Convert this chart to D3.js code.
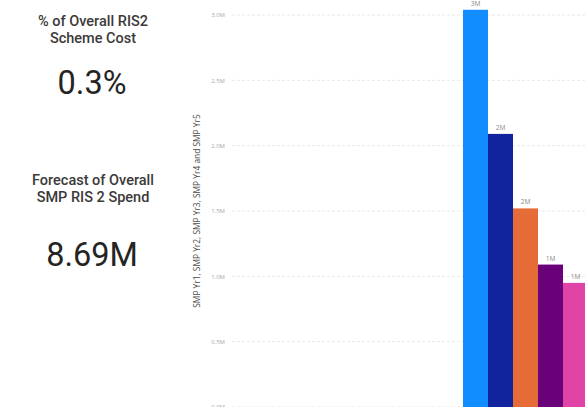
<!DOCTYPE html>
<html>
<head>
<meta charset="utf-8">
<script src="https://cdn.jsdelivr.net/npm/d3@7"></script>
<style>
  html, body { margin: 0; padding: 0; background: #fff; overflow: hidden; }
  svg { display: block; }
</style>
</head>
<body>
<svg id="chart" width="585" height="407"></svg>
<script>
// Yearly SMP forecast spend (millions), one column per year
const series = ["SMP Yr1", "SMP Yr2", "SMP Yr3", "SMP Yr4", "SMP Yr5"];
const values = [3.04, 2.09, 1.52, 1.09, 0.95];
const colors = ["#118DFF", "#12239E", "#E66C37", "#6B007B", "#E044A7"];
const yTicks = [0, 0.5, 1.0, 1.5, 2.0, 2.5, 3.0];

// KPI cards
const cardTitles = [["% of Overall RIS2", "Scheme Cost"], ["Forecast of Overall", "SMP RIS 2 Spend"]];
const cardValues = ["0.3%", "8.69M"];

const svg = d3.select("#chart");
const W = 585, H = 407;

// ---- KPI cards on the left ----
const cardX = 93;
const titleTop = [26, 185];
const valueBase = [94, 266];
cardTitles.forEach((lines, i) => {
  const t = svg.append("text")
    .attr("x", cardX).attr("y", titleTop[i])
    .attr("text-anchor", "middle")
    .attr("font-family", "Roboto, 'DejaVu Sans', sans-serif")
    .attr("font-size", 14.5)
    .attr("font-weight", 500)
    .attr("fill", "#3b3a39");
  lines.forEach((ln, j) => {
    t.append("tspan").attr("x", cardX).attr("dy", j === 0 ? 0 : 16.5).text(ln);
  });
  svg.append("text")
    .attr("x", cardX - 1).attr("y", valueBase[i])
    .attr("text-anchor", "middle")
    .attr("font-family", "Roboto, 'DejaVu Sans', sans-serif")
    .attr("font-size", 32.5)
    .attr("fill", "#252423")
    .text(cardValues[i]);
});

// ---- Column chart ----
const y = d3.scaleLinear().domain([0, 3]).range([407, 15]);
const x = d3.scaleBand().domain(series).range([463, 588]).padding(0);

const gridLeft = 232;

// gridlines
svg.append("g")
  .selectAll("line")
  .data(yTicks)
  .join("line")
  .attr("x1", gridLeft).attr("x2", W)
  .attr("y1", d => y(d)).attr("y2", d => y(d))
  .attr("stroke", "#e9e9e9")
  .attr("stroke-width", 1)
  .attr("stroke-dasharray", "3,2");

// y axis labels
const yAxis = d3.axisLeft(y)
  .tickValues(yTicks)
  .tickFormat(d => d3.format(".1f")(d) + "M")
  .tickSize(0)
  .tickPadding(0);
const ga = svg.append("g").attr("transform", "translate(225,0)").call(yAxis);
ga.select(".domain").remove();
ga.selectAll("text")
  .attr("font-family", "'Open Sans', 'DejaVu Sans', sans-serif")
  .attr("font-size", 6)
  .attr("fill", "#a9a9a9");

// axis title
svg.append("text")
  .attr("transform", "translate(200,211) rotate(-90)")
  .attr("text-anchor", "middle")
  .attr("font-family", "'Open Sans', 'DejaVu Sans', sans-serif")
  .attr("font-size", 8.4)
  .attr("fill", "#4a4948")
  .text("SMP Yr1, SMP Yr2, SMP Yr3, SMP Yr4 and SMP Yr5");

// bars
svg.append("g")
  .selectAll("rect")
  .data(values)
  .join("rect")
  .attr("x", (d, i) => x(series[i]))
  .attr("width", x.bandwidth())
  .attr("y", d => y(d))
  .attr("height", d => y(0) - y(d))
  .attr("fill", (d, i) => colors[i]);

// data labels
svg.append("g")
  .selectAll("text")
  .data(values)
  .join("text")
  .attr("x", (d, i) => x(series[i]) + x.bandwidth() / 2)
  .attr("y", d => y(d) - 4)
  .attr("text-anchor", "middle")
  .attr("font-family", "'Open Sans', 'DejaVu Sans', sans-serif")
  .attr("font-size", 6.5)
  .attr("fill", "#8a8886")
  .text(d => d3.format(".0f")(d) + "M");
</script>
</body>
</html>
